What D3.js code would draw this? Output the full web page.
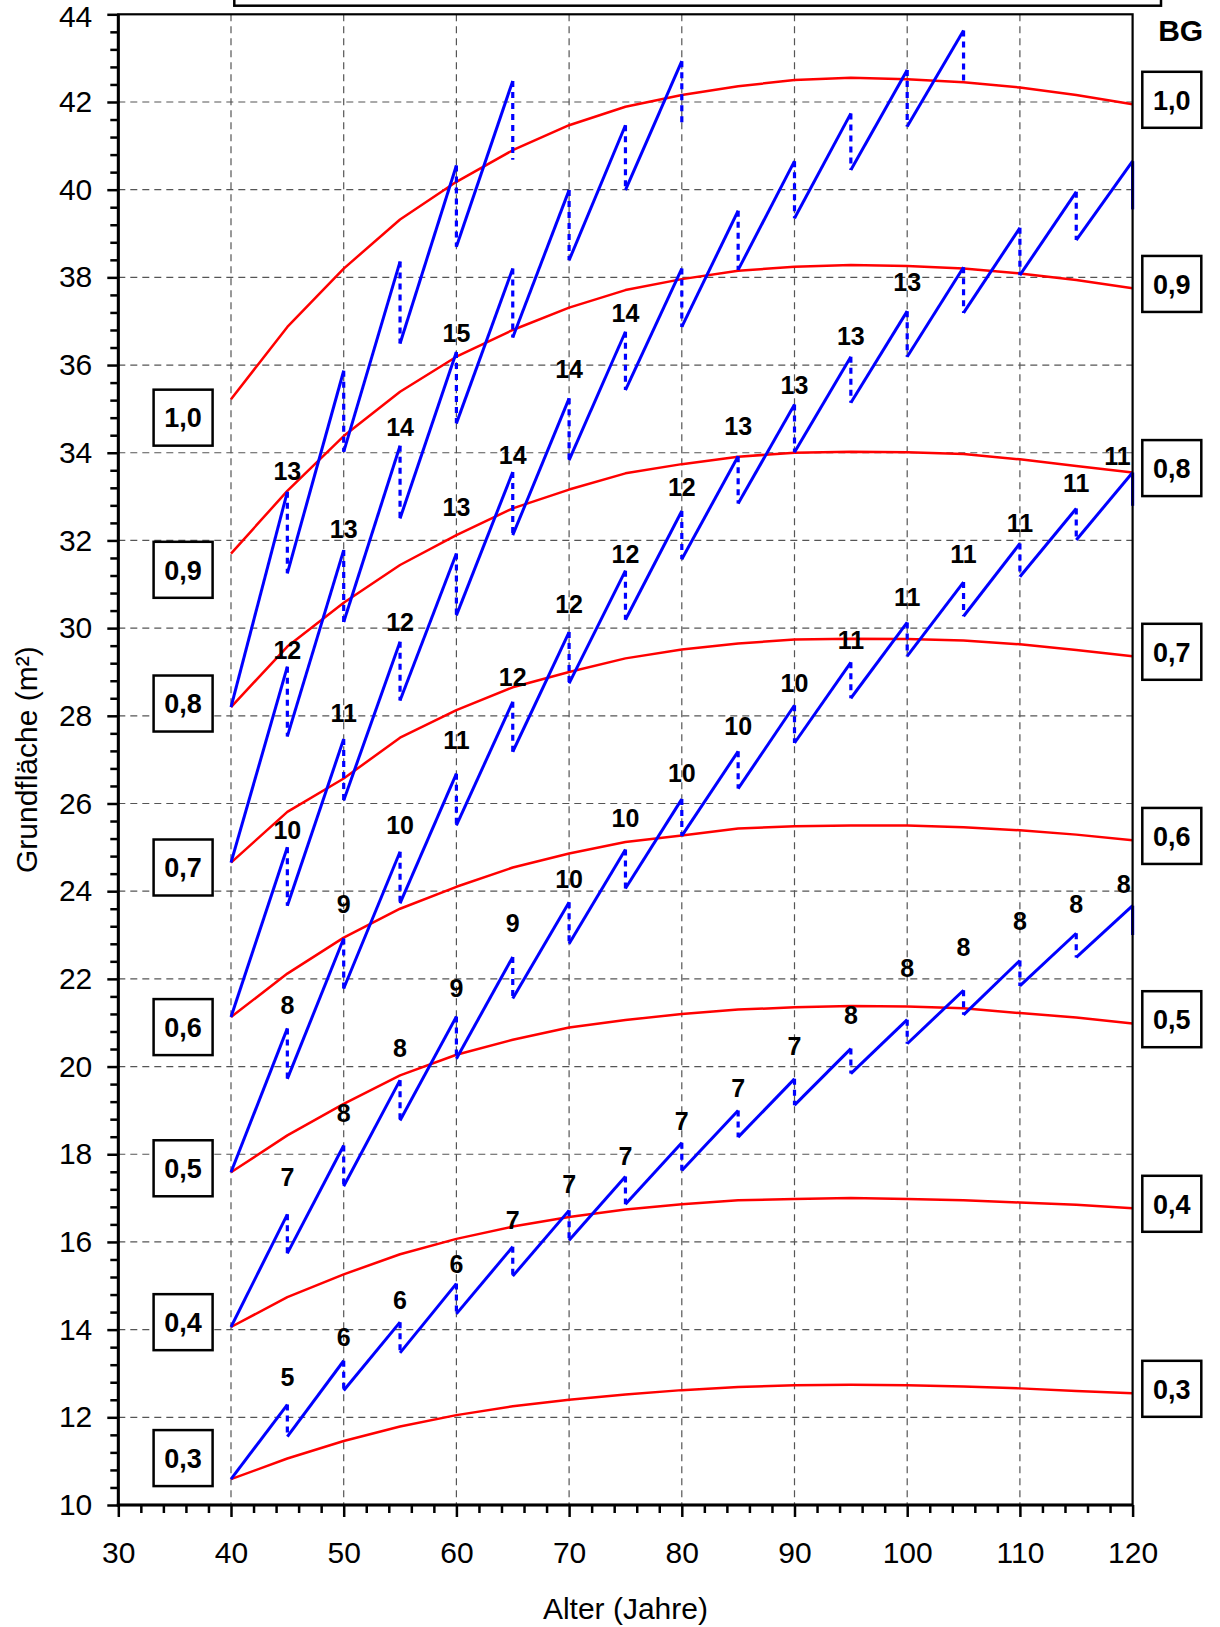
<!DOCTYPE html>
<html>
<head>
<meta charset="utf-8">
<script src="https://cdn.jsdelivr.net/npm/d3@7"></script>
<style>
  body { margin: 0; background: #fff; }
  svg { display: block; }
  text { font-family: "Liberation Sans", Arial, Helvetica, sans-serif; }
</style>
</head>
<body>
<svg id="chart" width="1220" height="1627"></svg>
<script>
// ---- Stand ages at which the curves are given (years) ----
const ages = [40, 45, 50, 55, 60, 65, 70, 75, 80, 85, 90, 95, 100, 105, 110, 115, 120];

// ---- Basal area curves (m²) per stocking degree (BG) ----
const curve03 = [10.59, 11.06, 11.46, 11.79, 12.05, 12.25, 12.40, 12.52, 12.62, 12.69, 12.73, 12.74, 12.73, 12.70, 12.66, 12.60, 12.55];
const curve04 = [14.06, 14.74, 15.26, 15.72, 16.07, 16.35, 16.57, 16.74, 16.86, 16.95, 16.98, 17.00, 16.98, 16.95, 16.90, 16.85, 16.77];
const curve05 = [17.59, 18.43, 19.15, 19.80, 20.27, 20.61, 20.89, 21.06, 21.20, 21.30, 21.35, 21.38, 21.37, 21.33, 21.22, 21.12, 20.98];
const curve06 = [21.13, 22.12, 22.94, 23.60, 24.10, 24.54, 24.86, 25.12, 25.27, 25.43, 25.48, 25.50, 25.50, 25.46, 25.39, 25.29, 25.16];
const curve07 = [24.65, 25.81, 26.57, 27.50, 28.13, 28.65, 29.00, 29.31, 29.51, 29.65, 29.74, 29.76, 29.75, 29.72, 29.63, 29.50, 29.36];
const curve08 = [28.20, 29.58, 30.58, 31.44, 32.12, 32.73, 33.16, 33.53, 33.74, 33.91, 34.00, 34.02, 34.01, 33.97, 33.85, 33.70, 33.55];
const curve09 = [31.70, 33.13, 34.38, 35.39, 36.19, 36.80, 37.31, 37.71, 37.96, 38.15, 38.24, 38.28, 38.26, 38.20, 38.09, 37.94, 37.75];
const curve10 = [35.22, 36.87, 38.20, 39.32, 40.18, 40.90, 41.47, 41.89, 42.16, 42.36, 42.50, 42.55, 42.52, 42.45, 42.33, 42.16, 41.95];

const bgNames  = ["0,3", "0,4", "0,5", "0,6", "0,7", "0,8", "0,9", "1,0"];
const bgCurves = [curve03, curve04, curve05, curve06, curve07, curve08, curve09, curve10];
// level (m²) at which each BG tag sits on the left side
const leftTagLevels = [11.07, 14.17, 17.68, 20.90, 24.54, 28.28, 31.33, 34.80];

// ---- Thinning sawtooth: basal area before (top) and after (bottom) each
//      thinning, every 5 years from age 45 onwards ----
const saw03Top    = [12.29, 13.29, 14.17, 15.05, 15.89, 16.72, 17.49, 18.26, 19.00, 19.72, 20.41, 21.07, 21.74, 22.42, 23.04, 23.67];
const saw03Bottom = [11.56, 12.61, 13.47, 14.36, 15.22, 16.04, 16.86, 17.63, 18.39, 19.12, 19.84, 20.52, 21.18, 21.84, 22.49, 23.00];
const saw04Top    = [16.63, 18.20, 19.69, 21.14, 22.50, 23.75, 24.95, 26.10, 27.19, 28.24, 29.22, 30.13, 31.05, 31.93, 32.73, 33.55];
const saw04Bottom = [15.74, 17.27, 18.77, 20.18, 21.55, 22.80, 24.06, 25.26, 26.34, 27.38, 28.40, 29.36, 30.27, 31.17, 32.01, 32.79];
const saw05Top    = [20.87, 22.92, 24.90, 26.68, 28.32, 29.91, 31.31, 32.67, 33.92, 35.10, 36.19, 37.23, 38.23, 39.13, 39.95, 40.65];
const saw05Bottom = [19.72, 21.78, 23.72, 25.50, 27.18, 28.74, 30.19, 31.57, 32.84, 34.01, 35.14, 36.19, 37.19, 38.05, 38.85, 39.55];
const saw06Top    = [25.00, 27.47, 29.69, 31.70, 33.56, 35.24, 36.76, 38.20, 39.52, 40.65, 41.74, 42.73, 43.63];
const saw06Bottom = [23.67, 26.07, 28.35, 30.29, 32.12, 33.83, 35.43, 36.87, 38.17, 39.35, 40.45, 41.44, 42.46];
const saw07Top    = [29.12, 31.78, 34.16, 36.30, 38.20, 39.99, 41.47, 42.93];
const saw07Bottom = [27.53, 30.14, 32.50, 34.67, 36.63, 38.39, 39.99, 41.45];
const saw08Top    = [33.11, 35.87, 38.36, 40.55, 42.48];
const saw08Bottom = [31.25, 34.02, 36.49, 38.70, 40.68];

// ---- Numbers written above the thinning peaks, with the level (m²) of each ----
const tag03 = [5, 6, 6, 6, 7, 7, 7, 7, 7, 7, 8, 8, 8, 8, 8, 8];
const tag03Level = [12.93, 13.83, 14.67, 15.50, 16.51, 17.33, 17.95, 18.75, 19.50, 20.48, 21.17, 22.25, 22.73, 23.31, 23.71, 24.16];
const tag04 = [7, 8, 8, 9, 9, 10, 10, 10, 10, 10, 11, 11, 11, 11, 11, 11];
const tag04Level = [17.47, 18.93, 20.42, 21.79, 23.27, 24.27, 25.68, 26.70, 27.76, 28.75, 29.72, 30.71, 31.69, 32.39, 33.30, 33.92];
const tag05 = [8, 9, 10, 11, 12, 12, 12, 12, 13, 13, 13, 13];
const tag05Level = [21.40, 23.70, 25.52, 27.44, 28.89, 30.56, 31.69, 33.22, 34.61, 35.54, 36.66, 37.90];
const tag06 = [10, 11, 12, 13, 14, 14, 14];
const tag06Level = [25.39, 28.07, 30.14, 32.77, 33.95, 35.90, 37.18];
const tag07 = [12, 13, 14, 15];
const tag07Level = [29.50, 32.26, 34.58, 36.72];
const tag08 = [13];
const tag08Level = [33.59];

const sawSeries = [
  { curve: curve03, top: saw03Top, bottom: saw03Bottom, tags: tag03, tagLevels: tag03Level },
  { curve: curve04, top: saw04Top, bottom: saw04Bottom, tags: tag04, tagLevels: tag04Level },
  { curve: curve05, top: saw05Top, bottom: saw05Bottom, tags: tag05, tagLevels: tag05Level },
  { curve: curve06, top: saw06Top, bottom: saw06Bottom, tags: tag06, tagLevels: tag06Level },
  { curve: curve07, top: saw07Top, bottom: saw07Bottom, tags: tag07, tagLevels: tag07Level },
  { curve: curve08, top: saw08Top, bottom: saw08Bottom, tags: tag08, tagLevels: tag08Level }
];

// ---- Axis ticks ----
const xMajorTicks = [30, 40, 50, 60, 70, 80, 90, 100, 110, 120];
const yMajorTicks = [10, 12, 14, 16, 18, 20, 22, 24, 26, 28, 30, 32, 34, 36, 38, 40, 42, 44];

// ---------------------------------------------------------------------
const svg = d3.select("#chart");
const L = 118.3, R = 1132.6, T = 14.3, B = 1505;
const x = d3.scaleLinear().domain([30, 120]).range([L, R]);
const y = d3.scaleLinear().domain([10, 44]).range([B, T]);

// box above the plot (only its lower part is visible)
svg.append("rect")
  .attr("x", 234.3).attr("y", -30).attr("width", 926.7).attr("height", 35.7)
  .attr("fill", "#fff").attr("stroke", "#000").attr("stroke-width", 2.5);

// grid
const grid = svg.append("g").attr("stroke", "#555").attr("stroke-width", 1.2)
  .attr("stroke-dasharray", "7,5").attr("fill", "none");
grid.selectAll(".gx").data(xMajorTicks.filter(v => v > 30 && v < 120)).join("line")
  .attr("x1", d => x(d)).attr("x2", d => x(d)).attr("y1", T).attr("y2", B);
grid.selectAll(".gy").data(yMajorTicks.filter(v => v > 10 && v < 44)).join("line")
  .attr("x1", L).attr("x2", R).attr("y1", d => y(d)).attr("y2", d => y(d));

// red BG curves
const curveLine = d3.line().x((d, i) => x(ages[i])).y(d => y(d));
svg.append("g").selectAll("path").data(bgCurves).join("path")
  .attr("d", d => curveLine(d))
  .attr("fill", "none").attr("stroke", "#ff0000").attr("stroke-width", 2.5)
  .attr("stroke-linejoin", "round");

// blue thinning sawtooth
const sawG = svg.append("g");
sawSeries.forEach(s => {
  const rises = [];
  const drops = [];
  let prevAge = ages[0], prevVal = s.curve[0];
  s.top.forEach((t, i) => {
    const a = ages[i + 1];
    rises.push([[prevAge, prevVal], [a, t]]);
    drops.push({ seg: [[a, t], [a, s.bottom[i]]], solid: a === 120 });
    prevAge = a; prevVal = s.bottom[i];
  });
  const seg = d3.line().x(d => x(d[0])).y(d => y(d[1]));
  sawG.append("g").selectAll("path").data(rises).join("path")
    .attr("d", seg).attr("fill", "none").attr("stroke", "#0000ff")
    .attr("stroke-width", 3);
  sawG.append("g").selectAll("path").data(drops).join("path")
    .attr("d", d => seg(d.seg)).attr("fill", "none").attr("stroke", "#0000ff")
    .attr("stroke-width", 3.2)
    .attr("stroke-dasharray", d => d.solid ? null : "6,5");
  // peak numbers
  sawG.append("g").selectAll("text").data(s.tags).join("text")
    .attr("x", (d, i) => ages[i + 1] === 120 ? x(120) - 2 : x(ages[i + 1]))
    .attr("y", (d, i) => y(s.tagLevels[i]))
    .attr("dy", "0.36em")
    .attr("text-anchor", (d, i) => ages[i + 1] === 120 ? "end" : "middle")
    .attr("font-size", 25).attr("font-weight", "bold").attr("fill", "#000")
    .text(d => d);
});

// frame
svg.append("rect").attr("x", L).attr("y", T).attr("width", R - L).attr("height", B - T)
  .attr("fill", "none").attr("stroke", "#000").attr("stroke-width", 2.2);

// axes
function styleAxis(g) {
  g.select(".domain").remove();
  g.selectAll(".tick line").attr("stroke", "#000").attr("stroke-width", 2.5);
  g.selectAll(".tick text").attr("font-size", 30).attr("fill", "#000")
    .attr("font-family", "'Liberation Sans', Arial, sans-serif");
}
const yMinor = d3.range(0, 86).filter(i => i % 5 !== 0).map(i => 10 + i * 0.4);
const xMinor = d3.range(30, 121, 2).filter(v => v % 10 !== 0);

svg.append("g").attr("transform", `translate(${L},0)`)
  .call(d3.axisLeft(y).tickValues(yMinor).tickSize(8).tickFormat(""))
  .call(styleAxis);
const yAxisG = svg.append("g").attr("transform", `translate(${L},0)`)
  .call(d3.axisLeft(y).tickValues(yMajorTicks).tickSize(11).tickPadding(15).tickFormat(d3.format("d")))
  .call(styleAxis);
// keep the top tick label inside the page
yAxisG.selectAll(".tick text").filter(d => d === 44).attr("dy", "0.40em");
svg.append("g").attr("transform", `translate(0,${B})`)
  .call(d3.axisBottom(x).tickValues(xMinor).tickSize(8).tickFormat(""))
  .call(styleAxis);
svg.append("g").attr("transform", `translate(0,${B})`)
  .call(d3.axisBottom(x).tickValues(xMajorTicks).tickSize(12).tickPadding(25).tickFormat(d3.format("d")))
  .call(styleAxis);

// thick left and bottom axis lines
svg.append("line").attr("x1", L).attr("x2", L).attr("y1", T).attr("y2", B + 1.5)
  .attr("stroke", "#000").attr("stroke-width", 3);
svg.append("line").attr("x1", L - 1.5).attr("x2", R).attr("y1", B).attr("y2", B)
  .attr("stroke", "#000").attr("stroke-width", 3);

// axis titles
svg.append("text").attr("transform", `translate(26,${(T + B) / 2}) rotate(-90)`)
  .attr("text-anchor", "middle").attr("dy", "0.35em").attr("font-size", 30)
  .text("Grundfläche (m²)");
svg.append("text").attr("x", (L + R) / 2).attr("y", 1619)
  .attr("text-anchor", "middle").attr("font-size", 30)
  .text("Alter (Jahre)");

// BG tags
function tag(g, cx, cy, label) {
  g.append("rect").attr("x", cx - 29.5).attr("y", cy - 28).attr("width", 59).attr("height", 56)
    .attr("fill", "#fff").attr("stroke", "#000").attr("stroke-width", 2.5);
  g.append("text").attr("x", cx).attr("y", cy).attr("dy", "0.36em")
    .attr("text-anchor", "middle").attr("font-size", 27).attr("font-weight", "bold")
    .text(label);
}
const tagsG = svg.append("g");
bgNames.forEach((name, i) => {
  tag(tagsG, 183.1, y(leftTagLevels[i]), name);
  const c = bgCurves[i];
  tag(tagsG, 1171.8, y(c[c.length - 1] + 0.1), name);
});
svg.append("text").attr("x", 1180.7).attr("y", 30).attr("dy", "0.36em")
  .attr("text-anchor", "middle").attr("font-size", 30).attr("font-weight", "bold")
  .text("BG");
</script>
</body>
</html>
